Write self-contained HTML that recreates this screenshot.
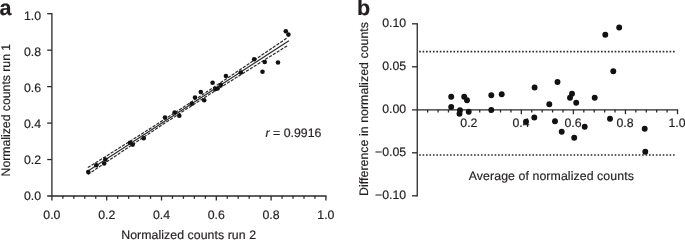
<!DOCTYPE html><html><head><meta charset="utf-8"><style>html,body{margin:0;padding:0;background:#fff}svg{display:block;will-change:transform}text{font-family:"Liberation Sans",sans-serif;fill:#231f20;stroke:#231f20;stroke-width:0.18px;text-rendering:geometricPrecision}</style></head><body>
<svg width="685" height="240" viewBox="0 0 685 240">
<rect width="685" height="240" fill="#fff"/>
<g stroke="#2a2a2d" stroke-width="1.3" fill="none" stroke-linecap="butt">
<path d="M51.9 13.049999999999999 V200.5"/>
<path d="M47.2 196.0 H326.54999999999995"/>
<path d="M47.2 13.70 H51.9"/>
<path d="M47.2 50.16 H51.9"/>
<path d="M47.2 86.62 H51.9"/>
<path d="M47.2 123.08 H51.9"/>
<path d="M47.2 159.54 H51.9"/>
<path d="M62.86 196.0 V198.8"/>
<path d="M73.82 196.0 V198.8"/>
<path d="M84.78 196.0 V198.8"/>
<path d="M95.74 196.0 V198.8"/>
<path d="M106.70 196.0 V200.5"/>
<path d="M117.66 196.0 V198.8"/>
<path d="M128.62 196.0 V198.8"/>
<path d="M139.58 196.0 V198.8"/>
<path d="M150.54 196.0 V198.8"/>
<path d="M161.50 196.0 V200.5"/>
<path d="M172.46 196.0 V198.8"/>
<path d="M183.42 196.0 V198.8"/>
<path d="M194.38 196.0 V198.8"/>
<path d="M205.34 196.0 V198.8"/>
<path d="M216.30 196.0 V200.5"/>
<path d="M227.26 196.0 V198.8"/>
<path d="M238.22 196.0 V198.8"/>
<path d="M249.18 196.0 V198.8"/>
<path d="M260.14 196.0 V198.8"/>
<path d="M271.10 196.0 V200.5"/>
<path d="M282.06 196.0 V198.8"/>
<path d="M293.02 196.0 V198.8"/>
<path d="M303.98 196.0 V198.8"/>
<path d="M314.94 196.0 V198.8"/>
<path d="M325.90 196.0 V200.5"/>
</g>
<text x="41.1" y="20.00" font-size="12.3" text-anchor="end">1.0</text>
<text x="41.1" y="56.00" font-size="12.3" text-anchor="end">0.8</text>
<text x="41.1" y="92.00" font-size="12.3" text-anchor="end">0.6</text>
<text x="41.1" y="128.00" font-size="12.3" text-anchor="end">0.4</text>
<text x="41.1" y="164.00" font-size="12.3" text-anchor="end">0.2</text>
<text x="41.1" y="200.00" font-size="12.3" text-anchor="end">0.0</text>
<text x="51.90" y="218.6" font-size="12.3" text-anchor="middle">0.0</text>
<text x="106.70" y="218.6" font-size="12.3" text-anchor="middle">0.2</text>
<text x="161.50" y="218.6" font-size="12.3" text-anchor="middle">0.4</text>
<text x="216.30" y="218.6" font-size="12.3" text-anchor="middle">0.6</text>
<text x="271.10" y="218.6" font-size="12.3" text-anchor="middle">0.8</text>
<text x="325.90" y="218.6" font-size="12.3" text-anchor="middle">1.0</text>
<text x="121.2" y="238.7" font-size="12.3" textLength="134.8" lengthAdjust="spacing">Normalized counts run 2</text>
<text transform="translate(9.7 176.4) rotate(-90)" font-size="12.3" textLength="132.6" lengthAdjust="spacing">Normalized counts run 1</text>
<text x="-0.4" y="15.3" font-size="21.5" font-weight="bold">a</text>
<text x="265.6" y="137" font-size="12.3"><tspan font-style="italic">r</tspan> = 0.9916</text>
<path d="M86.8 171.71 L288.9 40.76" stroke="#2a2a2d" stroke-width="1.15" fill="none"/>
<path d="M87.80 167.61 L92.79 164.50 L97.78 161.39 L102.77 158.29 L107.76 155.17 L112.75 152.06 L117.74 148.94 L122.73 145.81 L127.72 142.68 L132.71 139.54 L137.70 136.40 L142.69 133.25 L147.68 130.09 L152.67 126.92 L157.66 123.74 L162.65 120.55 L167.64 117.35 L172.63 114.14 L177.62 110.91 L182.61 107.67 L187.60 104.42 L192.59 101.16 L197.58 97.88 L202.57 94.60 L207.56 91.30 L212.55 88.00 L217.54 84.68 L222.53 81.36 L227.52 78.03 L232.51 74.69 L237.50 71.35 L242.49 68.01 L247.48 64.66 L252.47 61.31 L257.46 57.95 L262.45 54.59 L267.44 51.23 L272.43 47.87 L277.42 44.50 L282.41 41.13 L287.40 37.76" stroke="#2a2a2d" stroke-width="1.2" fill="none" stroke-dasharray="3.2 1.3"/>
<path d="M87.80 174.52 L92.79 171.15 L97.78 167.79 L102.77 164.44 L107.76 161.08 L112.75 157.73 L117.74 154.39 L122.73 151.05 L127.72 147.71 L132.71 144.38 L137.70 141.06 L142.69 137.74 L147.68 134.44 L152.67 131.14 L157.66 127.85 L162.65 124.57 L167.64 121.31 L172.63 118.05 L177.62 114.81 L182.61 111.59 L187.60 108.37 L192.59 105.17 L197.58 101.98 L202.57 98.80 L207.56 95.63 L212.55 92.47 L217.54 89.31 L222.53 86.17 L227.52 83.03 L232.51 79.90 L237.50 76.77 L242.49 73.65 L247.48 70.54 L252.47 67.42 L257.46 64.31 L262.45 61.20 L267.44 58.10 L272.43 55.00 L277.42 51.90 L282.41 48.80 L287.40 45.70" stroke="#2a2a2d" stroke-width="1.2" fill="none" stroke-dasharray="3.2 1.3"/>
<circle cx="88.3" cy="172" r="2.3" fill="#111"/>
<circle cx="96.3" cy="165.3" r="2.3" fill="#111"/>
<circle cx="104.2" cy="163.5" r="2.3" fill="#111"/>
<circle cx="105.3" cy="159.5" r="2.3" fill="#111"/>
<circle cx="130" cy="142.7" r="2.3" fill="#111"/>
<circle cx="132.7" cy="144.6" r="2.3" fill="#111"/>
<circle cx="143.7" cy="138.2" r="2.3" fill="#111"/>
<circle cx="165" cy="117.5" r="2.3" fill="#111"/>
<circle cx="174.6" cy="112.5" r="2.3" fill="#111"/>
<circle cx="179.3" cy="115.8" r="2.3" fill="#111"/>
<circle cx="191.7" cy="103.8" r="2.3" fill="#111"/>
<circle cx="195" cy="97.5" r="2.3" fill="#111"/>
<circle cx="200.8" cy="92" r="2.3" fill="#111"/>
<circle cx="204.2" cy="100.3" r="2.3" fill="#111"/>
<circle cx="212.6" cy="82.7" r="2.3" fill="#111"/>
<circle cx="215.2" cy="89.1" r="2.3" fill="#111"/>
<circle cx="217.6" cy="88.5" r="2.3" fill="#111"/>
<circle cx="220.8" cy="85" r="2.3" fill="#111"/>
<circle cx="225.9" cy="76" r="2.3" fill="#111"/>
<circle cx="240.8" cy="72.5" r="2.3" fill="#111"/>
<circle cx="254.2" cy="59.2" r="2.3" fill="#111"/>
<circle cx="264.7" cy="62" r="2.3" fill="#111"/>
<circle cx="278" cy="62.5" r="2.3" fill="#111"/>
<circle cx="262.5" cy="71.7" r="2.3" fill="#111"/>
<circle cx="285.8" cy="31.3" r="2.3" fill="#111"/>
<circle cx="288.4" cy="34.6" r="2.3" fill="#111"/>
<g stroke="#2a2a2d" stroke-width="1.3" fill="none">
<path d="M417.25 23.150000000000002 V196.45000000000002"/>
<path d="M412 109.80000000000001 H678.15"/>
<path d="M412 23.80 H417.25"/>
<path d="M412 66.80 H417.25"/>
<path d="M412 152.80 H417.25"/>
<path d="M412 195.80 H417.25"/>
<path d="M427.66 109.80000000000001 V112.5"/>
<path d="M438.07 109.80000000000001 V112.5"/>
<path d="M448.48 109.80000000000001 V112.5"/>
<path d="M458.89 109.80000000000001 V112.5"/>
<path d="M469.30 109.80000000000001 V114.2"/>
<path d="M479.71 109.80000000000001 V112.5"/>
<path d="M490.12 109.80000000000001 V112.5"/>
<path d="M500.53 109.80000000000001 V112.5"/>
<path d="M510.94 109.80000000000001 V112.5"/>
<path d="M521.35 109.80000000000001 V114.2"/>
<path d="M531.76 109.80000000000001 V112.5"/>
<path d="M542.17 109.80000000000001 V112.5"/>
<path d="M552.58 109.80000000000001 V112.5"/>
<path d="M562.99 109.80000000000001 V112.5"/>
<path d="M573.40 109.80000000000001 V114.2"/>
<path d="M583.81 109.80000000000001 V112.5"/>
<path d="M594.22 109.80000000000001 V112.5"/>
<path d="M604.63 109.80000000000001 V112.5"/>
<path d="M615.04 109.80000000000001 V112.5"/>
<path d="M625.45 109.80000000000001 V114.2"/>
<path d="M635.86 109.80000000000001 V112.5"/>
<path d="M646.27 109.80000000000001 V112.5"/>
<path d="M656.68 109.80000000000001 V112.5"/>
<path d="M667.09 109.80000000000001 V112.5"/>
<path d="M677.50 109.80000000000001 V114.2"/>
</g>
<g stroke="#2a2a2d" stroke-width="1.6" fill="none" stroke-dasharray="1.6 1.83">
<path d="M419.2 51.65 H674.7"/>
<path d="M419.2 155.0 H674.7"/>
</g>
<text x="406.2" y="27.20" font-size="12.3" text-anchor="end">0.10</text>
<text x="406.2" y="70.20" font-size="12.3" text-anchor="end">0.05</text>
<text x="406.2" y="113.20" font-size="12.3" text-anchor="end">0.00</text>
<text x="406.2" y="156.20" font-size="12.3" text-anchor="end">−0.05</text>
<text x="406.2" y="199.20" font-size="12.3" text-anchor="end">−0.10</text>
<text x="468.90" y="127.3" font-size="12.3" text-anchor="middle">0.2</text>
<text x="520.95" y="127.3" font-size="12.3" text-anchor="middle">0.4</text>
<text x="573.00" y="127.3" font-size="12.3" text-anchor="middle">0.6</text>
<text x="625.05" y="127.3" font-size="12.3" text-anchor="middle">0.8</text>
<text x="677.10" y="127.3" font-size="12.3" text-anchor="middle">1.0</text>
<text x="468.8" y="179.7" font-size="12.3" textLength="165" lengthAdjust="spacing">Average of normalized counts</text>
<text transform="translate(367.7 196) rotate(-90)" font-size="12.3" textLength="174" lengthAdjust="spacing">Difference in normalized counts</text>
<text x="357" y="15.3" font-size="21.5" font-weight="bold">b</text>
<circle cx="451.2" cy="96.7" r="2.95" fill="#111"/>
<circle cx="451.2" cy="107" r="2.95" fill="#111"/>
<circle cx="464.2" cy="96.7" r="2.95" fill="#111"/>
<circle cx="467" cy="100.3" r="2.95" fill="#111"/>
<circle cx="460" cy="110.3" r="2.95" fill="#111"/>
<circle cx="459.5" cy="113.7" r="2.95" fill="#111"/>
<circle cx="468.7" cy="111.7" r="2.95" fill="#111"/>
<circle cx="491.3" cy="95.3" r="2.95" fill="#111"/>
<circle cx="501.7" cy="94.2" r="2.95" fill="#111"/>
<circle cx="491.3" cy="110" r="2.95" fill="#111"/>
<circle cx="534.6" cy="87.5" r="2.95" fill="#111"/>
<circle cx="534.3" cy="117.5" r="2.95" fill="#111"/>
<circle cx="526" cy="121.8" r="2.95" fill="#111"/>
<circle cx="549.3" cy="104.3" r="2.95" fill="#111"/>
<circle cx="555" cy="121.3" r="2.95" fill="#111"/>
<circle cx="561.7" cy="131.7" r="2.95" fill="#111"/>
<circle cx="557.5" cy="82" r="2.95" fill="#111"/>
<circle cx="572" cy="93.8" r="2.95" fill="#111"/>
<circle cx="570" cy="97.8" r="2.95" fill="#111"/>
<circle cx="576.2" cy="102.8" r="2.95" fill="#111"/>
<circle cx="574.2" cy="137.8" r="2.95" fill="#111"/>
<circle cx="584.7" cy="126.7" r="2.95" fill="#111"/>
<circle cx="610" cy="118.8" r="2.95" fill="#111"/>
<circle cx="594.7" cy="97.8" r="2.95" fill="#111"/>
<circle cx="605.3" cy="34.7" r="2.95" fill="#111"/>
<circle cx="619.2" cy="27.5" r="2.95" fill="#111"/>
<circle cx="613.3" cy="71.3" r="2.95" fill="#111"/>
<circle cx="644.7" cy="128.8" r="2.95" fill="#111"/>
<circle cx="645.3" cy="151.7" r="2.95" fill="#111"/>
</svg></body></html>
